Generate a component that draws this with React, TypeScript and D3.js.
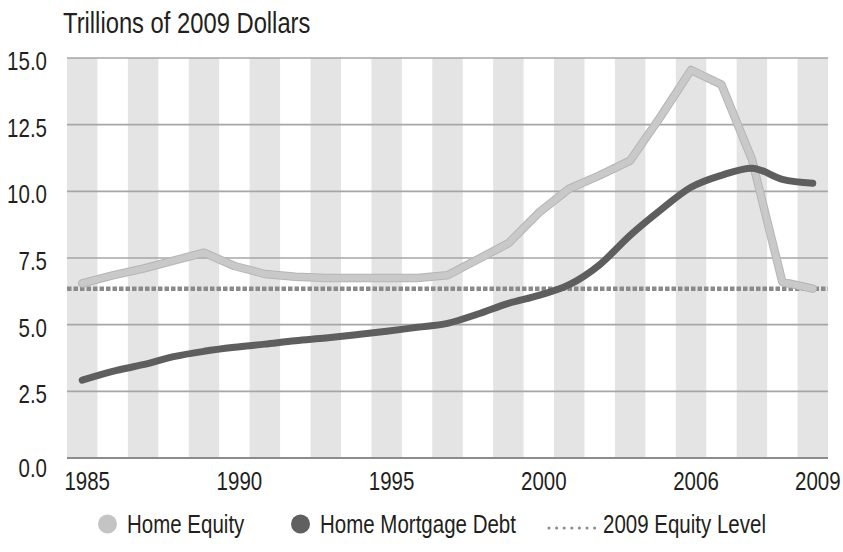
import React, { useEffect, useRef } from "react";
import * as d3 from "d3";

const years = d3.range(1985, 2010);

const homeEquity = [
  6.55, 6.85, 7.1, 7.4, 7.7, 7.2, 6.9, 6.8, 6.75, 6.75, 6.75, 6.75, 6.85, 7.45,
  8.05, 9.2, 10.1, 10.6, 11.15, 12.8, 14.55, 14.0, 11.2, 6.6, 6.35,
];

const mortgageDebt = [
  2.92, 3.25, 3.5, 3.8, 4.0, 4.15, 4.27, 4.4, 4.5, 4.62, 4.75, 4.9, 5.05, 5.4,
  5.8, 6.1, 6.5, 7.25, 8.35, 9.3, 10.15, 10.6, 10.87, 10.45, 10.3,
];

const equityLevel2009 = 6.35;

const yTicks = [0, 2.5, 5, 7.5, 10, 12.5, 15];
const xTickYears = [1985, 1990, 1995, 2000, 2005, 2009];
const xTickLabels = ["1985", "1990", "1995", "2000", "2006", "2009"];

const legendItems = [
  { label: "Home Equity", kind: "dot", color: "#c4c4c4" },
  { label: "Home Mortgage Debt", kind: "dot", color: "#606060" },
  { label: "2009 Equity Level", kind: "dots", color: "#8a8a8a" },
];

const FONT = "'Liberation Sans', Arial, sans-serif";
const TEXT = "#231f20";
const NARROW = 0.82; // fake a condensed face, no narrow font installed

// condensed text: squeeze horizontally around the anchor point
const addText = (parent, x, y, str, size, anchor = "start") =>
  parent
    .append("text")
    .attr("transform", `translate(${x},${y}) scale(${NARROW},1)`)
    .attr("text-anchor", anchor)
    .style("font-family", FONT)
    .style("font-size", `${size}px`)
    .style("fill", TEXT)
    .text(str);

const Chart = ({ width = 843, height = 552 }) => {
  const svgRef = useRef();

  useEffect(() => {
    const margin = { top: 58, right: 15, bottom: 94, left: 67 };
    const innerW = width - margin.left - margin.right;
    const innerH = height - margin.top - margin.bottom;

    const svg = d3.select(svgRef.current).attr("width", width).attr("height", height);
    svg.selectAll("*").remove();

    const x = d3.scaleBand().domain(years).range([0, innerW]).padding(0);
    const cx = (yr) => x(yr) + x.bandwidth() / 2;
    const y = d3.scaleLinear().domain([0, 15]).range([innerH, 0]);

    addText(svg, 63, 33, "Trillions of 2009 Dollars", 29);

    const g = svg.append("g").attr("transform", `translate(${margin.left},${margin.top})`);

    // alternating year bands
    g.selectAll("rect.band")
      .data(years.filter((d, i) => i % 2 === 0))
      .join("rect")
      .attr("class", "band")
      .attr("x", (d) => x(d))
      .attr("y", 0)
      .attr("width", x.bandwidth())
      .attr("height", innerH)
      .attr("fill", "#e3e4e3");

    // horizontal grid
    g.selectAll("line.grid")
      .data(yTicks)
      .join("line")
      .attr("class", "grid")
      .attr("x1", 0)
      .attr("x2", innerW)
      .attr("y1", (d) => y(d))
      .attr("y2", (d) => y(d))
      .attr("stroke", (d) => (d === 0 ? "#8c8c8c" : "#a6a6a6"))
      .attr("stroke-width", (d) => (d === 0 ? 2 : 1.6));

    // y labels
    yTicks.forEach((d) => {
      addText(g, -20, y(d) + (d === 0 ? 19 : 12), d3.format(".1f")(d), 25, "end");
    });

    // x labels
    xTickYears.forEach((d, i) => {
      addText(g, cx(d) + 5, innerH + 32, xTickLabels[i], 25, "middle");
    });

    // 2009 equity level
    g.append("line")
      .attr("x1", 0)
      .attr("x2", innerW)
      .attr("y1", y(equityLevel2009))
      .attr("y2", y(equityLevel2009))
      .attr("stroke", "#8a8a8a")
      .attr("stroke-width", 4.5)
      .attr("stroke-dasharray", "4.5 2");

    const line = d3
      .line()
      .x((d, i) => cx(years[i]))
      .y((d) => y(d));

    // home equity (light, with faint outline)
    g.append("path")
      .datum(homeEquity)
      .attr("d", line.curve(d3.curveLinear))
      .attr("fill", "none")
      .attr("stroke", "#b5b5b5")
      .attr("stroke-width", 8.5)
      .attr("stroke-linejoin", "round")
      .attr("stroke-linecap", "round");
    g.append("path")
      .datum(homeEquity)
      .attr("d", line.curve(d3.curveLinear))
      .attr("fill", "none")
      .attr("stroke", "#c9c9c9")
      .attr("stroke-width", 6.5)
      .attr("stroke-linejoin", "round")
      .attr("stroke-linecap", "round");

    // mortgage debt
    g.append("path")
      .datum(mortgageDebt)
      .attr("d", line.curve(d3.curveMonotoneX))
      .attr("fill", "none")
      .attr("stroke", "#5e5e5e")
      .attr("stroke-width", 7)
      .attr("stroke-linejoin", "round")
      .attr("stroke-linecap", "round");

    // legend
    const legendX = [98, 291, 547];
    const legendY = 524;
    const lg = svg.append("g");
    legendItems.forEach((item, i) => {
      const lx = legendX[i];
      if (item.kind === "dot") {
        lg.append("circle")
          .attr("cx", lx + 9.5)
          .attr("cy", legendY)
          .attr("r", 9.5)
          .attr("fill", item.color);
      } else {
        lg.append("line")
          .attr("x1", lx + 2)
          .attr("x2", lx + 48)
          .attr("y1", legendY + 4)
          .attr("y2", legendY + 4)
          .attr("stroke", item.color)
          .attr("stroke-width", 3)
          .attr("stroke-linecap", "round")
          .attr("stroke-dasharray", "0 7.6");
      }
      addText(lg, item.kind === "dot" ? lx + 29 : lx + 56, legendY + 9, item.label, 25);
    });
  }, [width, height]);

  return <svg ref={svgRef} style={{ position: "absolute", left: 0, top: 0 }}></svg>;
};

export default function App() {
  return <Chart />;
}
